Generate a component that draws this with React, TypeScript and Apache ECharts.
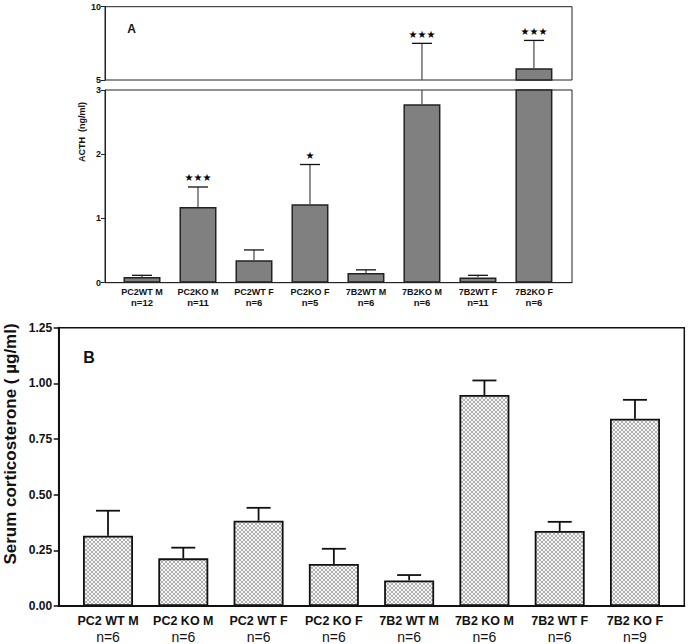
import React, { useEffect, useRef } from 'react';
import * as echarts from 'echarts';

// ---- Panel A: plasma ACTH (ng/ml), broken axis ----
const groupsA = ['PC2WT M', 'PC2KO M', 'PC2WT F', 'PC2KO F', '7B2WT M', '7B2KO M', '7B2WT F', '7B2KO F'];
const nA = ['n=12', 'n=11', 'n=6', 'n=5', 'n=6', 'n=6', 'n=11', 'n=6'];
const acthMean = [0.09, 1.18, 0.35, 1.22, 0.15, 2.78, 0.08, 5.8];
const acthSem = [0.025, 0.31, 0.16, 0.62, 0.05, 4.72, 0.035, 1.9];
const starsA = ['', '★★★', '', '★', '', '★★★', '', '★★★'];

// ---- Panel B: serum corticosterone (µg/ml) ----
const groupsB = ['PC2 WT M', 'PC2 KO M', 'PC2 WT F', 'PC2 KO F', '7B2 WT M', '7B2 KO M', '7B2 WT F', '7B2 KO F'];
const nB = ['n=6', 'n=6', 'n=6', 'n=6', 'n=6', 'n=6', 'n=6', 'n=9'];
const corticoMean = [0.316, 0.214, 0.383, 0.189, 0.115, 0.948, 0.337, 0.841];
const corticoSem = [0.112, 0.048, 0.058, 0.068, 0.024, 0.065, 0.041, 0.085];

const FONT = '"Liberation Sans", Arial, Helvetica, sans-serif';

function makeErrRender(capHalf: number, stem: string, cap: string, lw: number, stars: string[] | null) {
  return (params: any, api: any) => {
    const x = api.value(0);
    const m = api.value(1);
    const e = api.value(2);
    const base = api.coord([x, m]);
    const top = api.coord([x, m + e]);
    const cs = params.coordSys;
    const yMin = cs.y;
    const yMax = cs.y + cs.height;
    const y1 = Math.min(base[1], yMax);
    const y2 = Math.max(top[1], yMin);
    const children: any[] = [];
    if (y2 < y1) {
      children.push({
        type: 'line',
        shape: { x1: base[0], y1, x2: base[0], y2 },
        style: { stroke: stem, lineWidth: lw },
      });
    }
    if (top[1] >= yMin - 0.5 && top[1] <= yMax) {
      children.push({
        type: 'line',
        shape: { x1: base[0] - capHalf, y1: top[1], x2: base[0] + capHalf, y2: top[1] },
        style: { stroke: cap, lineWidth: lw },
      });
      const s = stars ? stars[params.dataIndex] : '';
      if (s) {
        children.push({
          type: 'text',
          style: {
            text: s,
            x: base[0],
            y: top[1] - 4,
            align: 'center',
            textAlign: 'center',
            verticalAlign: 'bottom',
            textVerticalAlign: 'bottom',
            fontSize: 10,
            fontFamily: 'DejaVu Sans, sans-serif',
            fill: '#000',
          },
        });
      }
    }
    return { type: 'group', children };
  };
}

export default function App() {
  const ref = useRef<HTMLDivElement>(null);
  useEffect(() => {
    if (!ref.current) return;
    const chart = echarts.init(ref.current, null, { renderer: 'svg' });

    const c = document.createElement('canvas');
    c.width = 4;
    c.height = 4;
    const ctx = c.getContext('2d')!;
    ctx.fillStyle = '#f6f6f6';
    ctx.fillRect(0, 0, 4, 4);
    ctx.fillStyle = '#b0b0b0';
    [[0, 0], [1, 1], [2, 2], [3, 3], [3, 0], [2, 1], [1, 2], [0, 3]].forEach(([px, py]) => ctx.fillRect(px, py, 1, 1));
    const hatch: any = { image: c, repeat: 'repeat', imageWidth: 4, imageHeight: 4 };

    const posA = groupsA.map((_, i) => i + 1);
    const posB = groupsB.map((_, i) => i + 1);
    const barDataA = acthMean.map((v, i) => [posA[i], v]);
    const errDataA = acthMean.map((v, i) => [posA[i], v, acthSem[i]]);
    const barDataB = corticoMean.map((v, i) => [posB[i], v]);
    const errDataB = corticoMean.map((v, i) => [posB[i], v, corticoSem[i]]);

    const yAxisA = (min: number, max: number, interval: number, gridIndex: number) => ({
      type: 'value',
      gridIndex,
      min,
      max,
      interval,
      axisLine: { show: true, lineStyle: { color: '#222', width: 1 } },
      axisTick: { show: true, length: 4, lineStyle: { color: '#222', width: 1 } },
      axisLabel: { margin: 4, fontSize: 9, fontWeight: 'bold', color: '#111', fontFamily: FONT },
      splitLine: { show: false },
    });

    chart.setOption({
      animation: false,
      backgroundColor: '#fff',
      grid: [
        { left: 105, top: 6.7, width: 467, height: 73.3, show: true, borderColor: '#222', borderWidth: 1 },
        { left: 105, top: 90, width: 467, height: 192.7, show: true, borderColor: '#222', borderWidth: 1 },
        { left: 58.7, top: 327.7, width: 625.6, height: 278.3, show: true, borderColor: '#111', borderWidth: 1.5 },
      ],
      xAxis: [
        { type: 'value', gridIndex: 0, min: 0.339, max: 8.68, show: false, splitLine: { show: false } },
        {
          type: 'value',
          gridIndex: 1,
          min: 0.339,
          max: 8.68,
          splitLine: { show: false },
          axisLine: { show: true, lineStyle: { color: '#222', width: 1 } },
          axisTick: { show: false },
          axisLabel: {
            customValues: posA,
            hideOverlap: false,
            margin: 3.5,
            formatter: (v: number) => {
              const i = Math.round(v) - 1;
              return groupsA[i] ? `{a|${groupsA[i]}}\n{b|${nA[i]}}` : '';
            },
            rich: {
              a: { fontSize: 9, fontWeight: 'bold', fontFamily: FONT, color: '#111', lineHeight: 11 },
              b: { fontSize: 9.5, fontWeight: 'bold', fontFamily: FONT, color: '#111', lineHeight: 11 },
            },
          },
        },
        {
          type: 'value',
          gridIndex: 2,
          min: 0.345,
          max: 8.655,
          splitLine: { show: false },
          axisLine: { show: true, lineStyle: { color: '#111', width: 2 } },
          axisTick: { show: false },
          axisLabel: {
            customValues: posB,
            hideOverlap: false,
            margin: 7,
            formatter: (v: number) => {
              const i = Math.round(v) - 1;
              return groupsB[i] ? `{a|${groupsB[i]}}\n{b|${nB[i]}}` : '';
            },
            rich: {
              a: { fontSize: 12.5, fontWeight: 'bold', fontFamily: FONT, color: '#111', lineHeight: 16 },
              b: { fontSize: 14, fontFamily: FONT, color: '#111', lineHeight: 16 },
            },
          },
        },
      ],
      yAxis: [
        yAxisA(5, 10, 5, 0),
        yAxisA(0, 3, 1, 1),
        {
          type: 'value',
          gridIndex: 2,
          min: 0,
          max: 1.25,
          interval: 0.25,
          axisLine: { show: true, lineStyle: { color: '#111', width: 2 } },
          axisTick: { show: true, length: 5, lineStyle: { color: '#111', width: 1.5 } },
          axisLabel: {
            margin: 6.5,
            fontSize: 12,
            fontWeight: 'bold',
            color: '#111',
            fontFamily: FONT,
            formatter: (v: number) => v.toFixed(2),
          },
          splitLine: { show: false },
        },
      ],
      series: [
        {
          type: 'bar',
          xAxisIndex: 0,
          yAxisIndex: 0,
          data: barDataA,
          barWidth: 37,
          clip: true,
          itemStyle: { color: '#808080', borderColor: '#222', borderWidth: 1.5 },
        },
        {
          type: 'bar',
          xAxisIndex: 1,
          yAxisIndex: 1,
          data: barDataA,
          barWidth: 37,
          clip: true,
          itemStyle: { color: '#808080', borderColor: '#222', borderWidth: 1.5 },
        },
        {
          type: 'custom',
          xAxisIndex: 0,
          yAxisIndex: 0,
          data: errDataA,
          renderItem: makeErrRender(10, '#555', '#111', 1.3, starsA),
          z: 5,
        },
        {
          type: 'custom',
          xAxisIndex: 1,
          yAxisIndex: 1,
          data: errDataA,
          renderItem: makeErrRender(10, '#555', '#111', 1.3, starsA),
          z: 5,
        },
        {
          type: 'bar',
          xAxisIndex: 2,
          yAxisIndex: 2,
          data: barDataB,
          barWidth: 50,
          itemStyle: { color: hatch, borderColor: '#111', borderWidth: 1.8 },
        },
        {
          type: 'custom',
          xAxisIndex: 2,
          yAxisIndex: 2,
          data: errDataB,
          renderItem: makeErrRender(12, '#111', '#111', 1.8, null),
          z: 5,
        },
      ],
      graphic: [
        {
          type: 'text',
          x: 131.7,
          y: 29,
          style: {
            text: 'A',
            fontSize: 12,
            fontWeight: 'bold',
            fontFamily: FONT,
            fill: '#111',
            align: 'center',
            textAlign: 'center',
            verticalAlign: 'middle',
            textVerticalAlign: 'middle',
          },
        },
        {
          type: 'text',
          x: 82,
          y: 132,
          rotation: Math.PI / 2,
          style: {
            text: 'ACTH  (ng/ml)',
            fontSize: 9,
            fontWeight: 'bold',
            fontFamily: FONT,
            fill: '#111',
            align: 'center',
            textAlign: 'center',
            verticalAlign: 'middle',
            textVerticalAlign: 'middle',
          },
        },
        {
          type: 'text',
          x: 89,
          y: 357.5,
          style: {
            text: 'B',
            fontSize: 16,
            fontWeight: 'bold',
            fontFamily: FONT,
            fill: '#111',
            align: 'center',
            textAlign: 'center',
            verticalAlign: 'middle',
            textVerticalAlign: 'middle',
          },
        },
        {
          type: 'text',
          x: 10,
          y: 444,
          rotation: Math.PI / 2,
          style: {
            text: 'Serum corticosterone ( µg/ml)',
            fontSize: 17,
            fontWeight: 'bold',
            fontFamily: FONT,
            fill: '#111',
            align: 'center',
            textAlign: 'center',
            verticalAlign: 'middle',
            textVerticalAlign: 'middle',
          },
        },
      ],
    });
    return () => chart.dispose();
  }, []);
  return (
    <div
      ref={ref}
      style={{ position: 'absolute', left: 0, top: 0, width: 688, height: 644, background: '#fff' }}
    />
  );
}
